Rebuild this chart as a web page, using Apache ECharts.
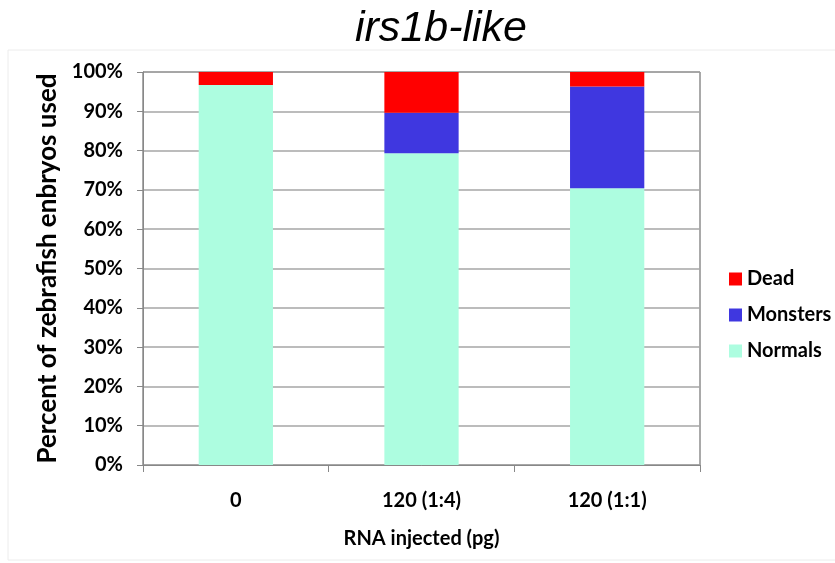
<!DOCTYPE html>
<html>
<head>
<meta charset="utf-8">
<script src="https://cdn.jsdelivr.net/npm/echarts@6/dist/echarts.min.js"></script>
<style>
  html, body { margin: 0; padding: 0; background: #fff; }
  #chart { width: 835px; height: 563px; }
</style>
</head>
<body>
<div id="chart"></div>
<script>
// Injection groups and outcome shares (percent of embryos)
const categories = ['0', '120 (1:4)', '120 (1:1)'];
const normals = [96.7, 79.3, 70.4];
const monsters = [0, 10.3, 25.9];
const dead = [3.3, 10.4, 3.7];
const yTicks = [0, 10, 20, 30, 40, 50, 60, 70, 80, 90, 100];

const labelFont = 'Lato, "Open Sans", "DejaVu Sans", sans-serif';

const chart = echarts.init(document.getElementById('chart'), null, { renderer: 'canvas' });

chart.setOption({
  animation: false,
  backgroundColor: '#fff',
  title: {
    text: 'irs1b-like',
    left: 436,
    top: 3,
    textAlign: 'center',
    textStyle: {
      fontFamily: '"Liberation Sans", Arial, sans-serif',
      fontStyle: 'italic',
      fontWeight: 'normal',
      fontSize: 43,
      color: '#000'
    }
  },
  graphic: [{
    type: 'rect',
    shape: { x: 8, y: 50, width: 840, height: 510 },
    style: { fill: 'none', stroke: '#ececec', lineWidth: 1 },
    silent: true
  }],
  legend: {
    orient: 'vertical',
    left: 724,
    top: 264,
    itemWidth: 13,
    itemHeight: 13,
    itemGap: 16,
    icon: 'rect',
    data: ['Dead', 'Monsters', 'Normals'],
    textStyle: {
      fontFamily: labelFont,
      fontWeight: 'bold',
      fontSize: 20,
      color: '#000'
    }
  },
  grid: {
    left: 143,
    top: 72,
    width: 557,
    height: 393,
    show: true,
    borderColor: '#555',
    borderWidth: 1,
    containLabel: false
  },
  xAxis: {
    type: 'category',
    data: categories,
    name: 'RNA injected (pg)',
    nameLocation: 'middle',
    nameGap: 64,
    nameTextStyle: {
      fontFamily: labelFont,
      fontWeight: 'bold',
      fontSize: 20,
      color: '#000'
    },
    axisLine: { show: true, lineStyle: { color: '#888', width: 1 } },
    axisTick: { show: true, length: 7, lineStyle: { color: '#888' }, alignWithLabel: false },
    axisLabel: {
      margin: 26,
      fontFamily: labelFont,
      fontWeight: 'bold',
      fontSize: 20,
      color: '#000'
    }
  },
  yAxis: {
    type: 'value',
    min: 0,
    max: 100,
    interval: 10,
    name: 'Percent of zebrafish enbryos used',
    nameLocation: 'middle',
    nameGap: 81,
    nameRotate: 90,
    nameTextStyle: {
      fontFamily: labelFont,
      fontWeight: 'bold',
      fontSize: 26,
      color: '#000'
    },
    axisLine: { show: true, lineStyle: { color: '#888', width: 1 } },
    axisTick: { show: true, inside: false, length: 6, lineStyle: { color: '#888' } },
    axisLabel: {
      margin: 20,
      fontFamily: labelFont,
      fontWeight: 'bold',
      fontSize: 20,
      color: '#000',
      formatter: v => (yTicks.includes(v) ? v + '%' : '')
    },
    splitLine: { show: true, lineStyle: { color: '#a6a6a6', width: 1.5 } }
  },
  series: [
    {
      name: 'Normals',
      type: 'bar',
      stack: 'total',
      data: normals,
      barWidth: '40%',
      itemStyle: { color: '#adfde0' }
    },
    {
      name: 'Monsters',
      type: 'bar',
      stack: 'total',
      data: monsters,
      barWidth: '40%',
      itemStyle: { color: '#3f37e0' }
    },
    {
      name: 'Dead',
      type: 'bar',
      stack: 'total',
      data: dead,
      barWidth: '40%',
      itemStyle: { color: '#ff0000' }
    }
  ]
});
</script>
</body>
</html>
